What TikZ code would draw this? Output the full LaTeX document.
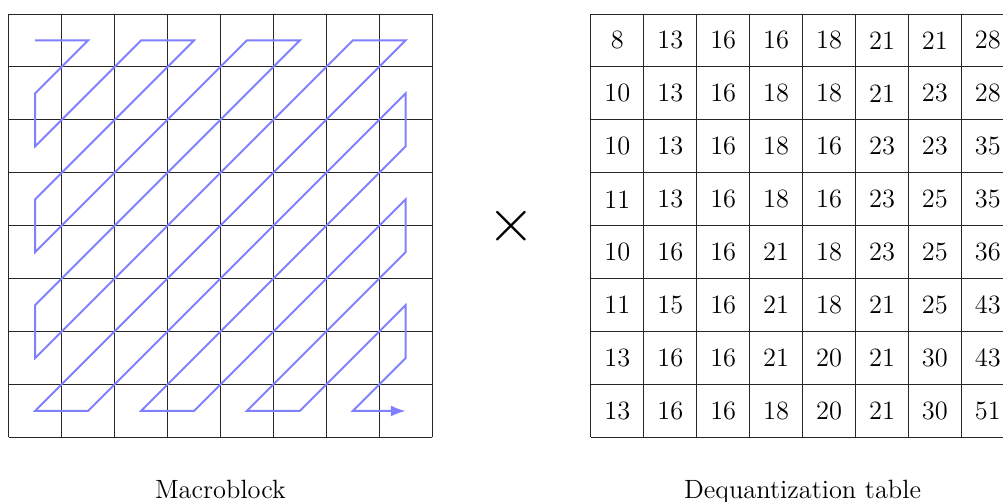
\documentclass[tikz,border=0pt]{standalone}
\usetikzlibrary{arrows.meta}
\tikzset{
  gridline/.style={line width=0.5pt, draw=black!85},
  zig/.style={line width=1.05pt, draw=blue!50, line join=miter},
  num/.style={inner sep=0pt, font=\fontsize{14.2}{17}\selectfont},
  caption/.style={inner sep=0pt, anchor=base, font=\fontsize{14.2}{17}\selectfont},
}
\begin{document}
\begin{tikzpicture}[x=1cm,y=1cm]
\clip (0,0) rectangle (18.95,-9.484);
% left grid (macroblock)
\begin{scope}[shift={(0.164,-0.2645)}]
  \draw[gridline] (0,0) grid (8,-8);
  \foreach \i in {0,...,7}{
    \foreach \j in {0,...,7}{
      \coordinate (c-\i-\j) at (\i+0.5,-\j-0.5);
    }
  }
  \coordinate (mbbot) at (4,-8);
\end{scope}
\draw[zig,-{Latex[length=8pt,width=6pt]}]
  (c-0-0) -- (c-1-0) -- (c-0-1) -- (c-0-2) -- (c-2-0) -- (c-3-0) -- (c-0-3) -- (c-0-4)
  -- (c-4-0) -- (c-5-0) -- (c-0-5) -- (c-0-6) -- (c-6-0) -- (c-7-0) -- (c-0-7) -- (c-1-7)
  -- (c-7-1) -- (c-7-2) -- (c-2-7) -- (c-3-7) -- (c-7-3) -- (c-7-4) -- (c-4-7) -- (c-5-7)
  -- (c-7-5) -- (c-7-6) -- (c-6-7) -- (c-7-7);
% multiplication sign
\node[inner sep=0pt] (times) at (9.664,-4.2645) {\scalebox{3.3}{$\times$}};
% right grid (dequantization table)
\begin{scope}[shift={(11.164,-0.2645)}]
  \draw[gridline] (0,0) grid (8,-8);
  \foreach \row [count=\j from 0] in {
    {8,13,16,16,18,21,21,28},
    {10,13,16,18,18,21,23,28},
    {10,13,16,18,16,23,23,35},
    {11,13,16,18,16,23,25,35},
    {10,16,16,21,18,23,25,36},
    {11,15,16,21,18,21,25,43},
    {13,16,16,21,20,21,30,43},
    {13,16,16,18,20,21,30,51}}{
    \foreach \v [count=\i from 0] in \row {
      \node[num] (t-\i-\j) at (\i+0.5,-\j-0.5) {\v};
    }
  }
  \coordinate (dqbot) at (4,-8);
\end{scope}
\node[caption] (mblabel) at ([yshift=-1.152cm]mbbot) {Macroblock};
\node[caption] (dqlabel) at ([yshift=-1.152cm]dqbot) {Dequantization table};
\end{tikzpicture}
\end{document}
